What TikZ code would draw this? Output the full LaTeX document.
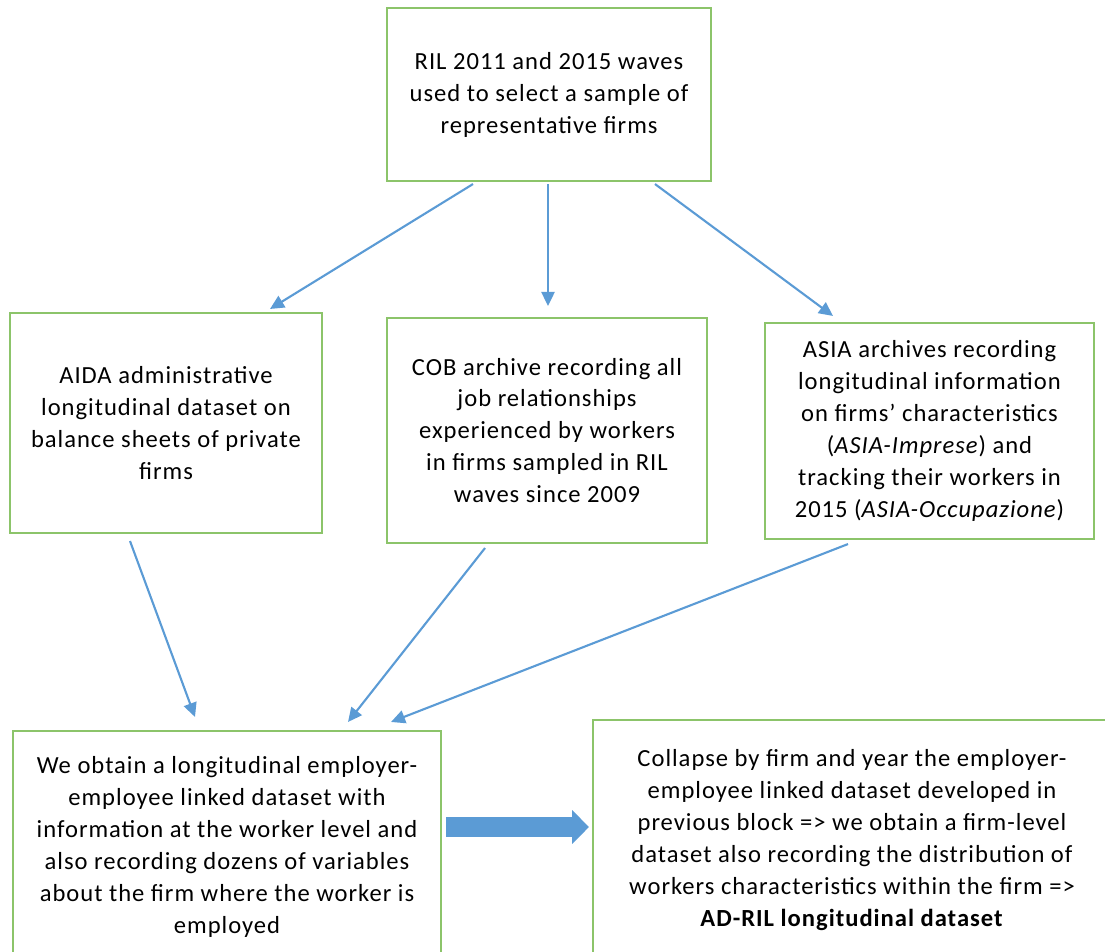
\documentclass[tikz,border=0pt]{standalone}
\usepackage{fontspec}
\setmainfont{Carlito}[LetterSpace=4]
\usepackage{tikz}
\usetikzlibrary{arrows.meta,positioning,calc}
\definecolor{eBlue}{HTML}{5B9BD5}
\definecolor{eGreen}{HTML}{8CC46A}
\tikzset{bx/.style={draw=eGreen, line width=1.2pt, fill=white, inner sep=0pt,
  align=center, font=\fontsize{14}{18.2}\selectfont}}
\tikzset{b/.style={draw, eBlue, line width=1.2pt, -{Triangle[length=8pt,width=7.5pt]}}}
\tikzset{bb/.style={draw, eBlue, line width=11.3pt, -{Triangle[length=9.6pt,width=18.7pt]}}}

\begin{document}
\begin{tikzpicture}[x=0.02cm, y=-0.02cm]
            \useasboundingbox (0,0) rectangle (1105,951);
            \clip (0,0) rectangle (1105,951);
            %%
            \node (ril) at (549,94.5) [bx, minimum width=6.48cm, minimum height=3.46cm]
                {RIL 2011 and 2015 waves\\used to select a sample of\\representative firms};
            \node (aida) at (166,423) [bx, minimum width=6.24cm, minimum height=4.4cm]
                {AIDA administrative\\longitudinal dataset on\\balance sheets of private\\firms};
            \node (cob) at (547,430.5) [bx, minimum width=6.4cm, minimum height=4.5cm]
                {COB archive recording all\\job relationships\\experienced by workers\\in firms sampled in RIL\\waves since 2009};
            \node (asia) at (929.5,431) [bx, minimum width=6.58cm, minimum height=4.32cm]
                {ASIA archives recording\\longitudinal information\\on firms’ characteristics\\(\textit{ASIA-Imprese}) and\\tracking their workers in\\2015 (\textit{ASIA-Occupazione})};
            \node (link) at (227,847) [bx, minimum width=8.56cm, minimum height=4.64cm]
                {We obtain a longitudinal employer-\\employee linked dataset with\\information at the worker level and\\also recording dozens of variables\\about the firm where the worker is\\employed};
            \node (adril) at (852,840) [bx, minimum width=10.36cm, minimum height=4.8cm]
                {Collapse by firm and year the employer-\\employee linked dataset developed in\\previous block => we obtain a firm-level\\dataset also recording the distribution of\\workers characteristics within the firm =>\\\textbf{AD-RIL longitudinal dataset}};
            %%
            \draw [b] ($(ril.south)+(-76,2)$) to ($(aida.north)+(104,-3)$);
            \draw [b] ($(ril.south)+(-1,2)$) to ($(cob.north)+(1,-11)$);
            \draw [b] ($(ril.south)+(106,2)$) to ($(asia.north)+(-96.5,-6)$);
            %%
            \draw [b] ($(aida.south)+(-36,7)$) to ($(link.north)+(-32,-13)$);
            \draw [b] ($(cob.south)+(-62,4)$) to ($(link.north)+(121,-8)$);
            \draw [b] ($(asia.south)+(-81.5,4)$) to ($(link.north)+(164,-8)$);
            %%
            \draw [bb] ($(link.east)+(4,-20)$) to ($(adril.west)+(-3,-13)$);
\end{tikzpicture}
\end{document}
